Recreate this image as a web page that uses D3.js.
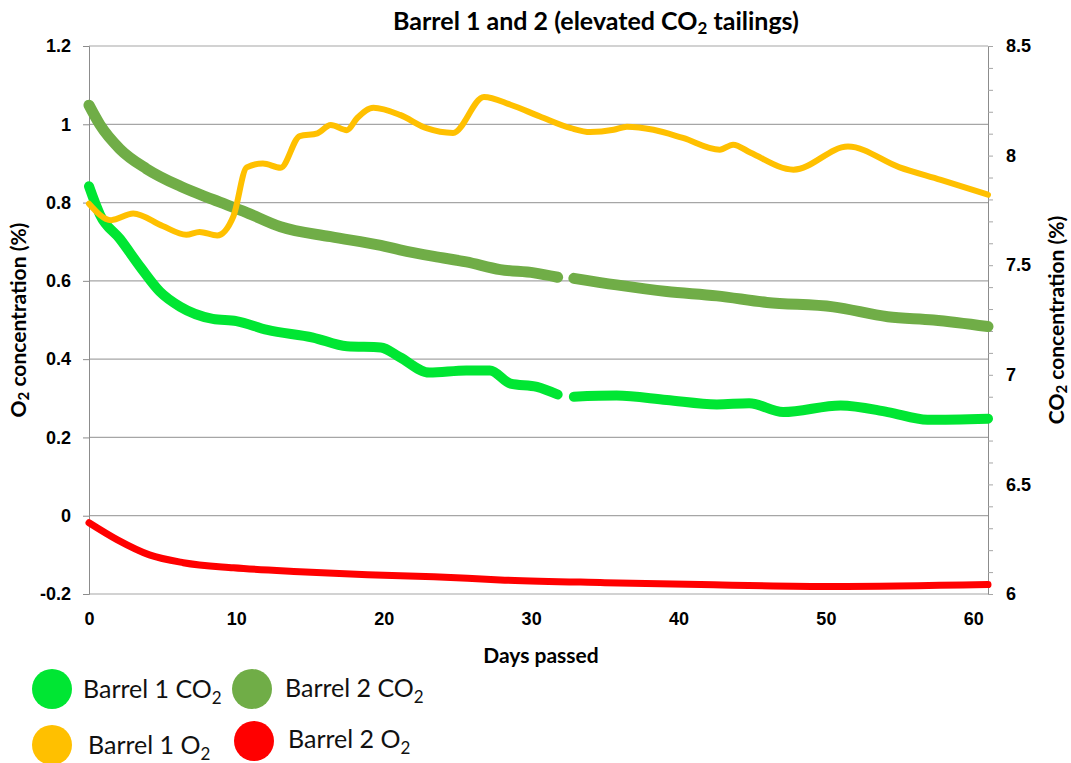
<!DOCTYPE html>
<html>
<head>
<meta charset="utf-8">
<script src="https://cdn.jsdelivr.net/npm/d3@7"></script>
<style>
  body { margin: 0; background: white; }
  svg { display: block; font-family: Lato, "Open Sans", sans-serif; }
</style>
</head>
<body>
<svg id="chart" width="1071" height="763"></svg>
<script>
// days / values, null = gap in logging
const b1co2Days = [0, 0.75, 2.1, 3.5, 4.8, 6.2, 8.4, 10, 12.1, 15.2, 17.5, 19.8, 21.1, 23.1, 25.6, 27.2, 28.6, 30.4, 31.8, 32.3, 32.9, 35.8, 39.2, 42.6, 44.8, 47.1, 51, 54.2, 56.9, 61];
const b1co2Vals = [7.86, 7.73, 7.62, 7.49, 7.38, 7.31, 7.255, 7.245, 7.205, 7.17, 7.13, 7.125, 7.08, 7.01, 7.02, 7.02, 6.96, 6.945, 6.91, null, 6.9, 6.905, 6.885, 6.865, 6.87, 6.83, 6.86, 6.83, 6.795, 6.8];

const b2co2Days = [0, 0.75, 2.1, 3.9, 6.2, 8.4, 10.7, 13, 16.4, 19.8, 21.1, 23.4, 25.6, 27.9, 30.2, 31.8, 32.3, 32.9, 35.8, 39.2, 42.6, 46, 50.5, 54.2, 57.3, 61];
const b2co2Vals = [8.23, 8.14, 8.03, 7.94, 7.86, 7.8, 7.74, 7.675, 7.63, 7.59, 7.57, 7.54, 7.515, 7.48, 7.465, 7.445, null, 7.44, 7.41, 7.38, 7.36, 7.33, 7.31, 7.265, 7.25, 7.22];

const b1o2Days = [0, 1.5, 3, 5, 6.6, 7.5, 8.7, 9.8, 10.7, 11.8, 13, 14.3, 15.5, 16.4, 17.5, 18.2, 19.3, 21.1, 22.9, 24.7, 26.8, 28.6, 30.6, 32.7, 34, 35.6, 36.5, 38.3, 40.3, 42.8, 43.7, 44.9, 47.8, 51.5, 55, 57.8, 61];
const b1o2Vals = [0.797, 0.755, 0.772, 0.74, 0.718, 0.725, 0.716, 0.765, 0.89, 0.9, 0.889, 0.97, 0.977, 0.998, 0.985, 1.016, 1.042, 1.024, 0.99, 0.978, 1.07, 1.05, 1.02, 0.99, 0.98, 0.986, 0.994, 0.986, 0.965, 0.935, 0.948, 0.927, 0.884, 0.943, 0.89, 0.858, 0.82];

const b2o2Days = [0, 1.9, 4.1, 6.4, 9.8, 14.3, 18.9, 23.4, 27.9, 35, 41.5, 50.5, 61];
const b2o2Vals = [-0.018, -0.061, -0.1, -0.12, -0.133, -0.143, -0.151, -0.156, -0.164, -0.171, -0.176, -0.181, -0.176];

const leftTicks = [-0.2, 0, 0.2, 0.4, 0.6, 0.8, 1, 1.2];
const rightTicks = [6, 6.5, 7, 7.5, 8, 8.5];
const dayTicks = [0, 10, 20, 30, 40, 50, 60];

const series = [
  { name: 'Barrel 1 CO', sub: '2', days: b1co2Days, vals: b1co2Vals, axis: 'right', color: '#00e633', width: 10 },
  { name: 'Barrel 2 CO', sub: '2', days: b2co2Days, vals: b2co2Vals, axis: 'right', color: '#70ad47', width: 11 },
  { name: 'Barrel 1 O', sub: '2', days: b1o2Days, vals: b1o2Vals, axis: 'left', color: '#ffc000', width: 6 },
  { name: 'Barrel 2 O', sub: '2', days: b2o2Days, vals: b2o2Vals, axis: 'left', color: '#ff0000', width: 7 }
];

const margin = { top: 46, right: 83, bottom: 169, left: 89 };
const width = 1071, height = 763;
const w = width - margin.left - margin.right;
const h = height - margin.top - margin.bottom;

const svg = d3.select('#chart');
const g = svg.append('g').attr('transform', `translate(${margin.left},${margin.top})`);

const x = d3.scaleLinear().domain([0, 61]).range([0, w]);
const yL = d3.scaleLinear().domain([-0.2, 1.2]).range([h, 0]);
const yR = d3.scaleLinear().domain([6, 8.5]).range([h, 0]);

// gridlines
g.append('g')
  .selectAll('line')
  .data(leftTicks)
  .enter().append('line')
  .attr('x1', 0).attr('x2', w)
  .attr('y1', d => yL(d)).attr('y2', d => yL(d))
  .attr('stroke', '#a6a6a6').attr('stroke-width', 1.2);

// left axis
const axL = g.append('g')
  .call(d3.axisLeft(yL).tickValues(leftTicks).tickSize(6).tickPadding(12).tickFormat(d => d3.format('')(+d.toFixed(1)).replace('−', '-')));
axL.select('.domain').attr('stroke', '#8c8c8c');
axL.selectAll('line').attr('stroke', '#8c8c8c');
axL.selectAll('text').style('font-size', '18px').style('font-weight', 'bold').attr('fill', '#000');

// right axis with minor ticks
const axRminor = g.append('g')
  .attr('transform', `translate(${w},0)`)
  .call(d3.axisRight(yR).ticks(25).tickSize(5).tickFormat(''));
axRminor.select('.domain').attr('stroke', '#8c8c8c');
axRminor.selectAll('line').attr('stroke', '#a6a6a6');
const axR = g.append('g')
  .attr('transform', `translate(${w},0)`)
  .call(d3.axisRight(yR).tickValues(rightTicks).tickSize(0).tickPadding(18).tickFormat(d3.format('')));
axR.select('.domain').remove();
axR.selectAll('text').style('font-size', '18px').style('font-weight', 'bold').attr('fill', '#000');

// bottom axis
const axB = g.append('g')
  .attr('transform', `translate(0,${h})`)
  .call(d3.axisBottom(x).tickValues(dayTicks).tickSize(0).tickPadding(18));
axB.select('.domain').remove();
axB.selectAll('text').style('font-size', '18px').style('font-weight', 'bold').attr('fill', '#000');

// series
series.forEach(s => {
  const y = s.axis === 'left' ? yL : yR;
  const pts = s.days.map((d, i) => ({ d, v: s.vals[i] }));
  const gen = d3.line()
    .defined(p => p.v !== null)
    .x(p => x(p.d))
    .y(p => y(p.v))
    .curve(d3.curveMonotoneX);
  g.append('path')
    .datum(pts)
    .attr('d', gen)
    .attr('fill', 'none')
    .attr('stroke', s.color)
    .attr('stroke-width', s.width)
    .attr('stroke-linejoin', 'round')
    .attr('stroke-linecap', 'round');
});

// title
svg.append('text')
  .attr('x', 596).attr('y', 30)
  .attr('text-anchor', 'middle')
  .style('font-size', '25px').style('font-weight', 'bold')
  .html('Barrel 1 and 2 (elevated CO<tspan font-size="17px" dy="4">2</tspan><tspan dy="-4"> tailings)</tspan>');

// axis titles
svg.append('text')
  .attr('transform', `translate(26,${margin.top + yL(0.5)}) rotate(-90)`)
  .attr('text-anchor', 'middle')
  .style('font-size', '21px').style('font-weight', 'bold')
  .html('O<tspan font-size="15px" dy="3">2</tspan><tspan dy="-3"> concentration (%)</tspan>');

svg.append('text')
  .attr('transform', `translate(1064,${margin.top + yL(0.5)}) rotate(-90)`)
  .attr('text-anchor', 'middle')
  .style('font-size', '21px').style('font-weight', 'bold')
  .html('CO<tspan font-size="15px" dy="3">2</tspan><tspan dy="-3"> concentration (%)</tspan>');

svg.append('text')
  .attr('x', 541).attr('y', 663)
  .attr('text-anchor', 'middle')
  .style('font-size', '21px').style('font-weight', 'bold')
  .text('Days passed');

// legend
const legendPos = [
  { cx: 52, cy: 689, tx: 83, ty: 698 },
  { cx: 252, cy: 689, tx: 285, ty: 697 },
  { cx: 52, cy: 745, tx: 88, ty: 754 },
  { cx: 254, cy: 741, tx: 288, ty: 748 }
];
series.forEach((s, i) => {
  const p = legendPos[i];
  svg.append('circle')
    .attr('cx', p.cx).attr('cy', p.cy).attr('r', 20)
    .attr('fill', s.color);
  svg.append('text')
    .attr('x', p.tx).attr('y', p.ty)
    .style('font-size', '25px')
    .attr('fill', '#111')
    .html(`${s.name}<tspan font-size="17px" dy="6">${s.sub}</tspan>`);
});
</script>
</body>
</html>
